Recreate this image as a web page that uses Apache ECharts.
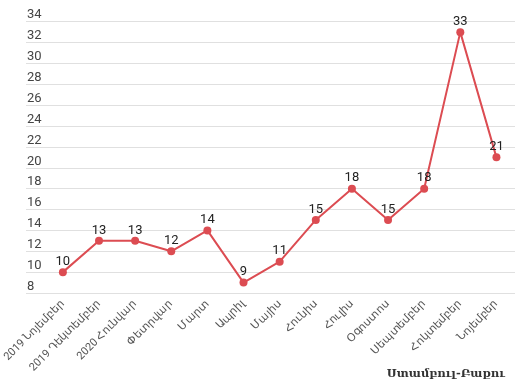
<!DOCTYPE html>
<html><head><meta charset="utf-8">
<script src="https://cdn.jsdelivr.net/npm/echarts@6/dist/echarts.min.js"></script>
<style>html,body{margin:0;padding:0;background:#fff}#c{width:531px;height:392px}</style>
</head><body><div id="c"></div>
<script>
const categories = ['2019 Նոյեմբեր','2019 Դեկտեմբեր','2020 Հունվար','Փետրվար','Մարտ','Ապրիլ','Մայիս','Հունիս','Հուլիս','Օգոստոս','Սեպտեմբեր','Հոկտեմբեր','Նոյեմբեր'];
const values = [10,13,13,12,14,9,11,15,18,15,18,33,21];
const yMin = 8, yMax = 34, yStep = 2;
const titleText = 'Ստամբուլ-Բաքու';

const chart = echarts.init(document.getElementById('c'));
chart.setOption({
  animation: false,
  title: {text: titleText, right: 21, bottom: 7, textStyle: {fontFamily: 'DejaVu Serif', fontSize: 11.5, fontWeight: 'bold', color: '#333'}},
  grid: [
    {left: 26, right: 16, top: 21.7, bottom: 99, containLabel: false},
    {left: 44, right: 16.5, top: 21.7, bottom: 99, containLabel: false}
  ],
  xAxis: [
    {gridIndex: 0, type: 'value', min: 0, max: 1, show: false},
    {gridIndex: 1, type: 'category', data: categories, boundaryGap: true,
     axisLine: {show: false}, axisTick: {show: false},
     axisLabel: {rotate: 45, interval: 0, fontSize: 11, color: '#555', fontFamily: 'Roboto', margin: 9}}
  ],
  yAxis: [
    {gridIndex: 0, type: 'value', min: yMin, max: yMax, interval: yStep,
     axisLine: {show: false}, axisTick: {show: false},
     splitLine: {lineStyle: {color: '#e0e0e0', width: 1}},
     axisLabel: {inside: true, margin: 1, verticalAlign: 'bottom', padding: [0,0,0,0], fontSize: 13, color: '#444', fontFamily: 'Roboto'}},
    {gridIndex: 1, type: 'value', min: yMin, max: yMax, interval: yStep, show: false}
  ],
  series: [{
    type: 'line', xAxisIndex: 1, yAxisIndex: 1, data: values,
    symbol: 'circle', symbolSize: 8,
    lineStyle: {color: '#dc4c52', width: 2},
    itemStyle: {color: '#dc4c52'},
    label: {show: true, position: 'top', distance: 0, fontSize: 13, color: '#222', fontFamily: 'Roboto'}
  }]
});
</script></body></html>
